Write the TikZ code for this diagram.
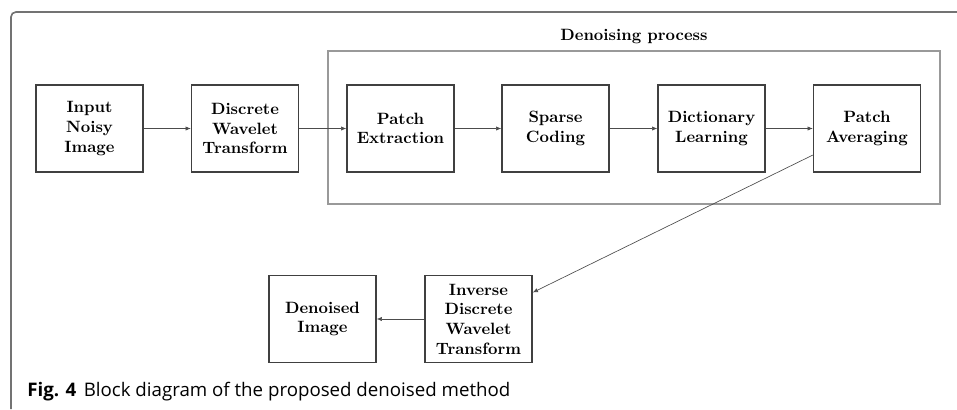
\documentclass[tikz,border=0pt]{standalone}
\usepackage{fontspec}
\newfontfamily\capfont{Open Sans}
\usetikzlibrary{arrows.meta}
\tikzset{
  blockbox/.style={draw=black!75, line width=0.8pt, minimum width=65.3pt, minimum height=53.1pt,
    align=center, font=\bfseries, inner sep=1pt},
  flow/.style={draw=black!70, line width=0.4pt, -{Latex[length=3.2pt,width=2.6pt]}},
  groupbox/.style={draw=black!40, line width=0.7pt},
  frameline/.style={draw=black!55, line width=1pt, rounded corners=3pt}
}
\begin{document}
\begin{tikzpicture}[x=0.61pt,y=-0.61pt]
\useasboundingbox (0,0) rectangle (957,409);
\draw[frameline] (11,409) -- (11,12) -- (957,12);
\draw[groupbox] (328,51) rectangle (940,204);
\node[font=\bfseries] (dp) at (634,37) {Denoising process};
\node[blockbox] (in) at (89.5,128.5) {Input\\Noisy\\Image};
\node[blockbox] (dwt) at (245,128.5) {Discrete\\Wavelet\\Transform};
\node[blockbox] (pe) at (400.5,128.5) {Patch\\Extraction};
\node[blockbox] (sc) at (555.5,128.5) {Sparse\\Coding};
\node[blockbox] (dl) at (711.5,128.5) {Dictionary\\Learning};
\node[blockbox] (pa) at (867,128.5) {Patch\\Averaging};
\node[blockbox] (di) at (322.5,319) {Denoised\\Image};
\node[blockbox] (idwt) at (478.5,319) {Inverse\\Discrete\\Wavelet\\Transform};
\draw[flow] (in) -- (dwt);
\draw[flow] (dwt) -- (pe);
\draw[flow] (pe) -- (sc);
\draw[flow] (sc) -- (dl);
\draw[flow] (dl) -- (pa);
\draw[flow] (pa) -- (idwt);
\draw[flow] (idwt) -- (di);
\node[anchor=base west, inner sep=0pt, font=\capfont\fontsize{11.4pt}{13pt}\selectfont] (cap) at (27,396)
  {\textbf{Fig. 4}\hspace{0.4em}Block diagram of the proposed denoised method};
\end{tikzpicture}
\end{document}
